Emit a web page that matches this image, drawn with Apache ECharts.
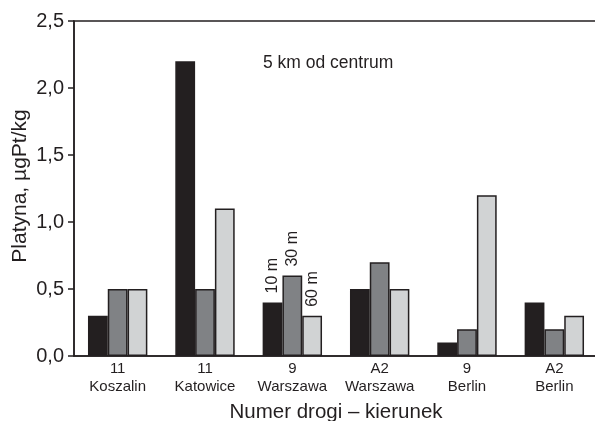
<!DOCTYPE html>
<html>
<head>
<meta charset="utf-8">
<title>Platyna</title>
<script src="https://cdn.jsdelivr.net/npm/echarts@6/dist/echarts.min.js"></script>
</head>
<body style="margin:0">
<div id="main" style="width:595px;height:421px;"></div>
<script type="text/javascript">
var categories = ['11\nKoszalin', '11\nKatowice', '9\nWarszawa', 'A2\nWarszawa', '9\nBerlin', 'A2\nBerlin'];
var seriesNames = ['10 m', '30 m', '60 m'];
var d10 = [0.3, 2.2, 0.4, 0.5, 0.1, 0.4];
var d30 = [0.5, 0.5, 0.6, 0.7, 0.2, 0.2];
var d60 = [0.5, 1.1, 0.3, 0.5, 1.2, 0.3];
var colors = ['#231f20', '#808285', '#d1d3d4'];
var labelIndex = 2; // distances written over "9 Warszawa"

var font = 'Liberation Sans, Arial, sans-serif';
var ink = '#231f20';

function makeData(vals, name) {
    return vals.map(function (v, i) {
        if (i !== labelIndex) return v;
        return {
            value: v,
            label: {
                show: true, position: 'top', rotate: 90, align: 'left', verticalAlign: 'middle',
                distance: 9, formatter: name, fontSize: 16, fontFamily: font, color: ink
            }
        };
    });
}

var myChart = echarts.init(document.getElementById('main'));

var option = {
    animation: false,
    backgroundColor: '#fff',
    grid: {
        left: 74, right: -3, top: 21, bottom: 65,
        outerBoundsMode: 'none',
        show: true, borderColor: ink, borderWidth: 1.5
    },
    graphic: [
        {
            type: 'text', left: 263, top: 54,
            style: { text: '5 km od centrum', font: '17.5px ' + font, fill: ink }
        },
        {
            type: 'text', x: 20, y: 186, rotation: Math.PI / 2,
            style: { text: 'Platyna, µgPt/kg', font: '21px ' + font, fill: ink, align: 'center', verticalAlign: 'middle' }
        }
    ],
    xAxis: {
        type: 'category',
        data: categories,
        name: 'Numer drogi – kierunek',
        nameLocation: 'middle',
        nameGap: 46,
        nameTextStyle: { fontSize: 20.5, fontFamily: font, color: ink },
        axisLine: { lineStyle: { color: ink, width: 1.5 } },
        axisTick: { length: 6, lineStyle: { color: ink, width: 1.5 } },
        axisLabel: { interval: 0, fontSize: 15, fontFamily: font, color: ink, lineHeight: 18, margin: 4 }
    },
    yAxis: {
        type: 'value',
        min: 0, max: 2.5, interval: 0.5,
        splitLine: { show: false },
        axisLine: { show: true, lineStyle: { color: ink, width: 1.5 } },
        axisTick: { show: true, length: 6, lineStyle: { color: ink, width: 1.5 } },
        axisLabel: {
            fontSize: 20, fontFamily: font, color: ink, margin: 10,
            formatter: function (v) { return v.toFixed(1).replace('.', ','); }
        }
    },
    series: [d10, d30, d60].map(function (vals, k) {
        return {
            name: seriesNames[k],
            type: 'bar',
            data: makeData(vals, seriesNames[k]),
            barGap: '0%',
            barCategoryGap: '32%',
            itemStyle: { color: colors[k], borderColor: ink, borderWidth: 1.5 }
        };
    })
};

myChart.setOption(option);
</script>
</body>
</html>
